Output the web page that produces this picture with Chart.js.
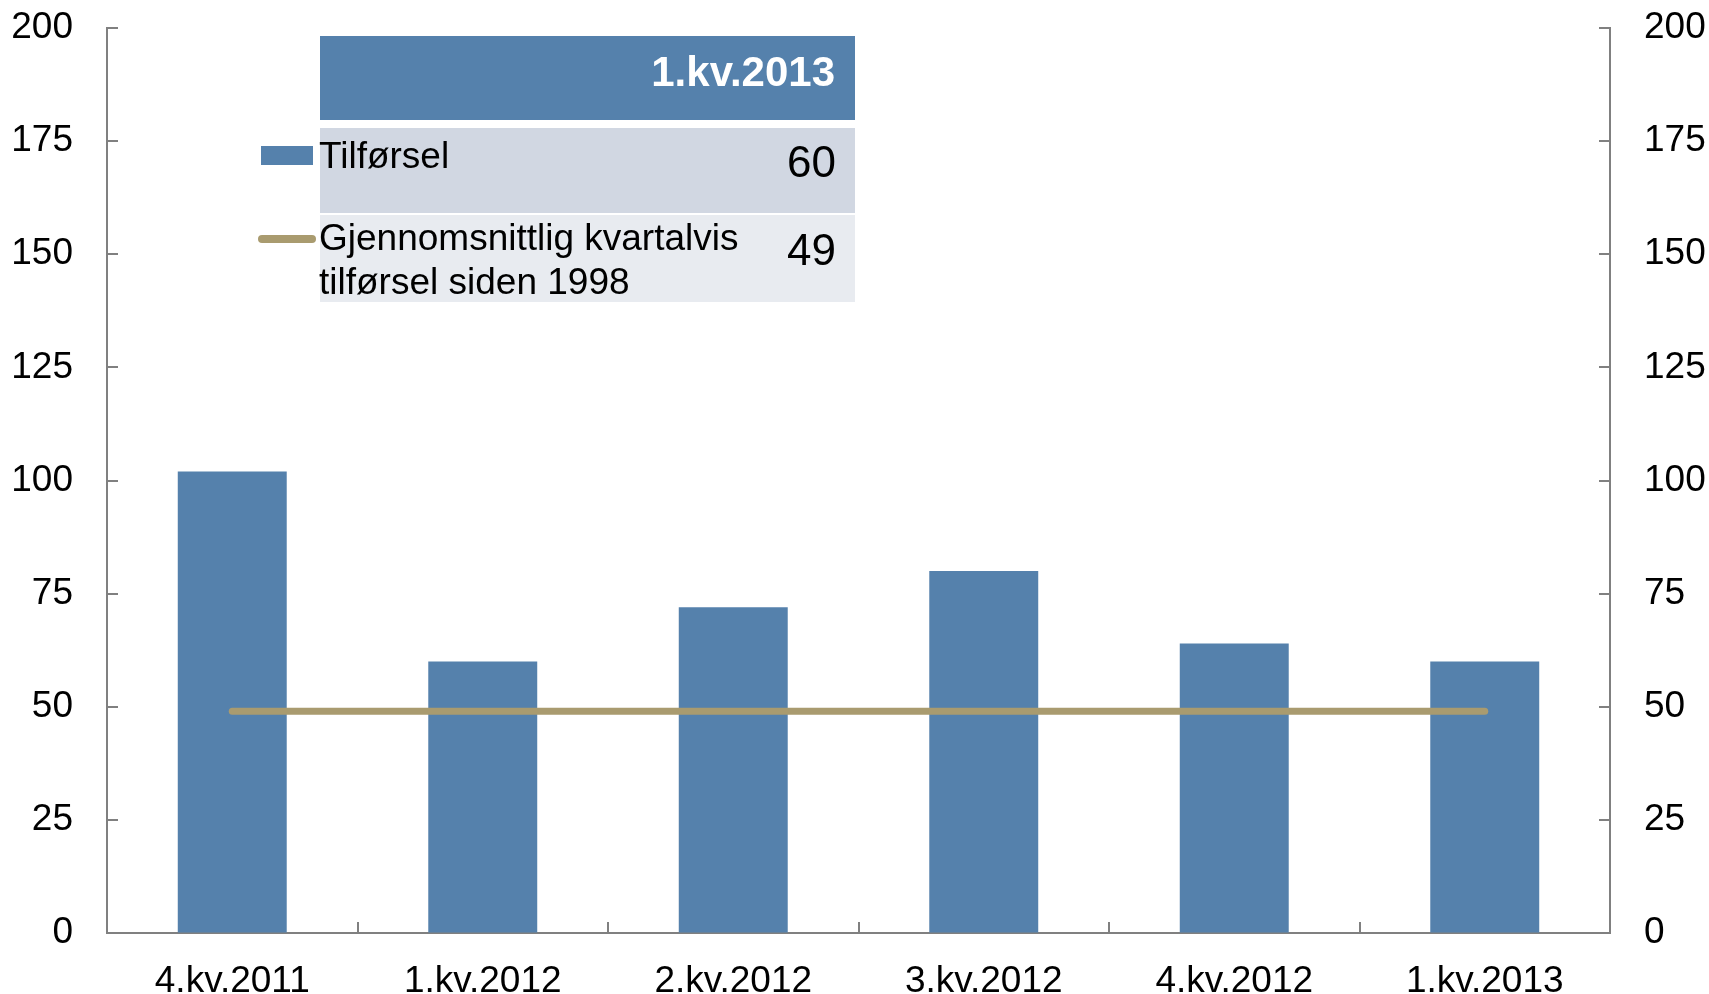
<!DOCTYPE html>
<html>
<head>
<meta charset="utf-8">
<script src="https://cdn.jsdelivr.net/npm/chart.js@4/dist/chart.umd.min.js"></script>
<style>
  html, body { margin: 0; padding: 0; background: #ffffff; }
  #wrap { position: relative; width: 1709px; height: 994px; overflow: hidden; font-family: "Liberation Sans", Arial, sans-serif; }
  #c { position: absolute; left: 0; top: 0; }
  .box { position: absolute; }
  .t { position: absolute; white-space: nowrap; color: #000; }
</style>
</head>
<body>
<div id="wrap">
  <canvas id="c" width="1709" height="994"></canvas>
  <div class="box" style="left:320px;top:36px;width:535px;height:84px;background:#5581AC;"></div>
  <div class="box" style="left:320px;top:128px;width:535px;height:85px;background:#D1D7E2;"></div>
  <div class="box" style="left:320px;top:215px;width:535px;height:87px;background:#E8EBF0;"></div>
  <div class="box" style="left:261px;top:146px;width:52px;height:19px;background:#5581AC;"></div>
  <div class="box" style="left:258px;top:235px;width:58px;height:8px;border-radius:4px;background:#A99B6F;"></div>
  <div class="t" id="hdr" style="right:874px;top:47px;font-size:42px;line-height:50px;font-weight:bold;color:#fff;"></div>
  <div class="t" id="lab1" style="left:319px;top:134px;font-size:37px;line-height:44px;"></div>
  <div class="t" id="val1" style="right:873px;top:135px;font-size:44px;line-height:53px;"></div>
  <div class="t" id="lab2" style="left:319px;top:216px;font-size:37px;line-height:44px;"></div>
  <div class="t" id="val2" style="right:873px;top:223px;font-size:44px;line-height:53px;"></div>
</div>
<script>
// ---- data ----
const categories = ["4.kv.2011", "1.kv.2012", "2.kv.2012", "3.kv.2012", "4.kv.2012", "1.kv.2013"];
const tilforsel = [102, 60, 72, 80, 64, 60];
const snitt = [49, 49, 49, 49, 49, 49];
const yTicks = [0, 25, 50, 75, 100, 125, 150, 175, 200];
const tableHeader = "1.kv.2013";
const seriesNames = ["Tilførsel", "Gjennomsnittlig kvartalvis\ntilførsel siden 1998"];
const tableValues = [60, 49];

// ---- table (real text) ----
document.getElementById('hdr').textContent = tableHeader;
document.getElementById('lab1').textContent = seriesNames[0];
document.getElementById('val1').textContent = String(tableValues[0]);
const l2 = document.getElementById('lab2');
seriesNames[1].split('\n').forEach((s, i) => { if (i) l2.appendChild(document.createElement('br')); l2.appendChild(document.createTextNode(s)); });
document.getElementById('val2').textContent = String(tableValues[1]);

const FONT = '"Liberation Sans", Arial, sans-serif';
const AXIS = '#808080';

const innerTicks = {
  id: 'innerTicks',
  afterDraw(chart) {
    const ctx = chart.ctx;
    const xs = chart.scales.x, yl = chart.scales.y, yr = chart.scales.y2;
    const a = chart.chartArea;
    ctx.save();
    ctx.strokeStyle = AXIS;
    ctx.lineWidth = 2;
    ctx.beginPath();
    yl.ticks.forEach((t, i) => {
      const y = Math.round(yl.getPixelForTick(i));
      ctx.moveTo(a.left, y); ctx.lineTo(a.left + 11, y);
    });
    yr.ticks.forEach((t, i) => {
      const y = Math.round(yr.getPixelForTick(i));
      ctx.moveTo(a.right, y); ctx.lineTo(a.right - 11, y);
    });
    for (let i = 1; i < categories.length; i++) {
      const x = Math.round((xs.getPixelForTick(i - 1) + xs.getPixelForTick(i)) / 2);
      ctx.moveTo(x, a.bottom); ctx.lineTo(x, a.bottom - 11);
    }
    ctx.stroke();
    ctx.restore();
  }
};

function fitY(w) {
  return function (s) { s.width = w; s.paddingTop = 28; s.paddingBottom = 0; };
}

const yCommon = {
  min: 0, max: 200,
  afterBuildTicks(scale) { scale.ticks = yTicks.map(v => ({ value: v })); },
  grid: { drawOnChartArea: false, drawTicks: false },
  border: { display: true, color: AXIS, width: 2 },
  ticks: { color: '#000', font: { family: FONT, size: 37 }, padding: 34 }
};

new Chart(document.getElementById('c'), {
  data: {
    labels: categories,
    datasets: [
      {
        type: 'line', label: seriesNames[1], data: snitt,
        borderColor: '#A99B6F', borderWidth: 7, borderCapStyle: 'round',
        pointRadius: 0, fill: false, order: 0, yAxisID: 'y'
      },
      {
        type: 'bar', label: seriesNames[0], data: tilforsel,
        backgroundColor: '#5581AC', borderWidth: 0,
        categoryPercentage: 1.0, barPercentage: 0.435, order: 1, yAxisID: 'y'
      }
    ]
  },
  options: {
    responsive: false,
    animation: false,
    devicePixelRatio: 1,
    layout: { padding: 0 },
    plugins: { legend: { display: false }, tooltip: { enabled: false } },
    scales: {
      x: {
        type: 'category', offset: true,
        grid: { display: false, drawTicks: false, offset: true },
        border: { display: true, color: AXIS, width: 2 },
        ticks: { color: '#000', font: { family: FONT, size: 37 }, padding: 27, maxRotation: 0, autoSkip: false },
        afterFit(s) { s.height = 61; s.paddingLeft = 0; s.paddingRight = 0; }
      },
      y: Object.assign({}, yCommon, { position: 'left', afterFit: fitY(107) }),
      y2: Object.assign({}, yCommon, { position: 'right', afterFit: fitY(99) })
    }
  },
  plugins: [innerTicks]
});
</script>
</body>
</html>
